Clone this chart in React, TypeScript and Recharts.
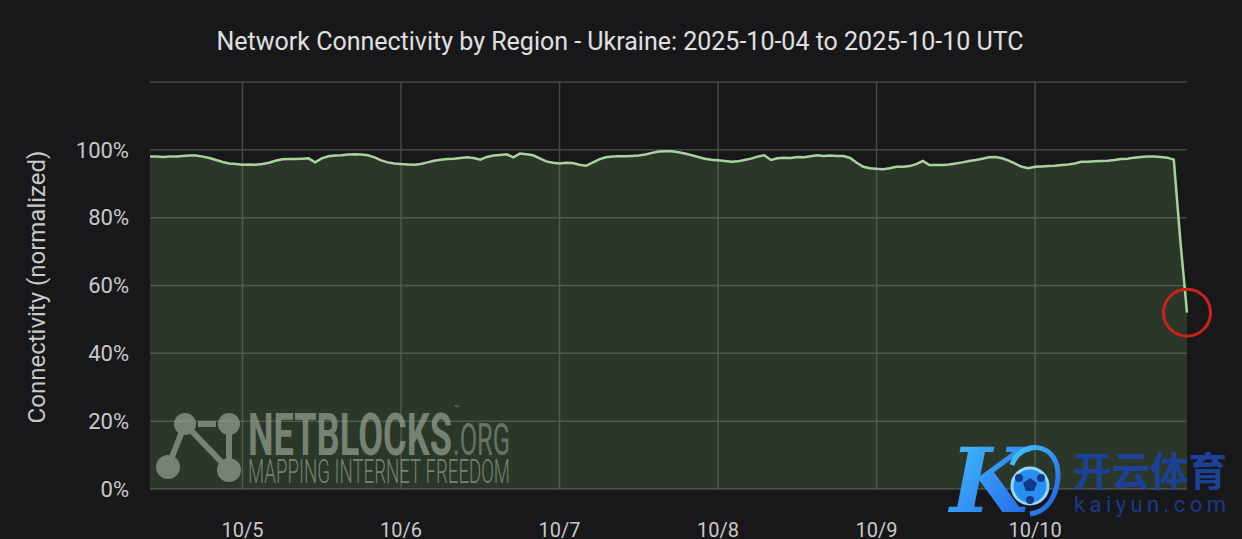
import React from 'react'
import {
  AreaChart,
  Area,
  XAxis,
  YAxis,
  CartesianGrid,
  ReferenceDot,
} from 'recharts'

// hours after 2025-10-04 00:00 UTC of the first sample
const startHour = 10

// hourly normalized connectivity (%)
const connectivity = [
  98.0, 98.0, 97.9, 98.0, 98.0, 98.2, 98.3, 98.3, 98.0, 97.6,
  97.0, 96.4, 96.0, 95.8, 95.6, 95.7, 95.6, 95.8, 96.2, 96.8,
  97.2, 97.3, 97.3, 97.4, 97.5, 96.3, 97.5, 98.1, 98.3, 98.4,
  98.6, 98.7, 98.6, 98.4, 97.8, 96.9, 96.3, 96.0, 95.8, 95.7,
  95.6, 95.8, 96.3, 96.8, 97.1, 97.3, 97.4, 97.6, 97.8, 97.6,
  97.1, 97.9, 98.3, 98.5, 98.7, 97.8, 98.9, 98.7, 98.4, 97.5,
  96.6, 96.2, 96.0, 96.2, 96.1, 95.6, 95.3, 96.2, 97.2, 97.8,
  98.0, 98.1, 98.1, 98.2, 98.3, 98.6, 99.1, 99.5, 99.6, 99.6,
  99.3, 98.9, 98.4, 97.9, 97.4, 97.1, 96.9, 96.7, 96.5, 96.6,
  97.0, 97.4, 98.0, 98.4, 97.0, 97.5, 97.7, 97.6, 97.9, 97.8,
  98.1, 98.4, 98.2, 98.3, 98.2, 98.2, 97.6, 96.2, 95.0, 94.6,
  94.4, 94.3, 94.6, 95.0, 95.0, 95.2, 95.8, 96.7, 95.5, 95.5,
  95.5, 95.7, 96.0, 96.3, 96.7, 97.0, 97.4, 97.8, 97.9, 97.5,
  96.8, 95.9, 95.0, 94.6, 95.0, 95.1, 95.2, 95.3, 95.5, 95.7,
  96.0, 96.5, 96.5, 96.6, 96.7, 96.8, 97.0, 97.3, 97.4, 97.7,
  97.9, 98.0, 98.0, 97.9, 97.7, 97.1, 73, 52,
]

const xTicks = [24, 48, 72, 96, 120, 144]
const xTickLabels = ['10/5', '10/6', '10/7', '10/8', '10/9', '10/10']
const yTicks = [0, 20, 40, 60, 80, 100, 120]

const data = connectivity.map((value, i) => ({ hour: startHour + i, value }))
const lastPoint = data[data.length - 1]

const TEXT = '#c9c9c9'

// only the day lines, no lines on the plot edges
function dayLines({ xAxis, offset }: any) {
  if (xAxis && typeof xAxis.scale === 'function') {
    return xTicks.map((t) => xAxis.scale(t))
  }
  const span = lastPoint.hour - startHour
  return xTicks.map((t) => offset.left + ((t - startHour) / span) * offset.width)
}

function Watermarks() {
  return (
    <svg
      width={1242}
      height={539}
      style={{ position: 'absolute', left: 0, top: 0, pointerEvents: 'none' }}
    >
      <defs>
        <linearGradient id="kgrad" x1="0" y1="0" x2="1" y2="1">
          <stop offset="0%" stopColor="#45c8ff" />
          <stop offset="100%" stopColor="#1f5ee6" />
        </linearGradient>
      </defs>

      {/* title + y label */}
      <text x={620} y={50} textAnchor="middle" fontSize={25} fill="#e0e0e0">
        Network Connectivity by Region - Ukraine: 2025-10-04 to 2025-10-10 UTC
      </text>
      <text
        x={37}
        y={287}
        textAnchor="middle"
        dominantBaseline="central"
        fontSize={24}
        fill={TEXT}
        transform="rotate(-90 37 287)"
      >
        Connectivity (normalized)
      </text>

      {/* netblocks watermark */}
      <g fill="#98a195" stroke="#98a195" opacity={0.7}>
        <line x1={185} y1={424} x2={168} y2={467} strokeWidth={6} />
        <line x1={185} y1={424} x2={229} y2={470} strokeWidth={6} />
        <line x1={229} y1={424} x2={229} y2={470} strokeWidth={6} />
        <line x1={198} y1={424} x2={216} y2={424} strokeWidth={6} />
        <circle cx={185} cy={424} r={11} stroke="none" />
        <circle cx={229} cy={424} r={11} stroke="none" />
        <circle cx={168} cy={467} r={12} stroke="none" />
        <circle cx={229} cy={470} r={12} stroke="none" />
        <text
          x={248}
          y={455}
          fontSize={60}
          fontWeight={700}
          stroke="none"
          textLength={204}
          lengthAdjust="spacingAndGlyphs"
        >
          NETBLOCKS
        </text>
        <text x={454} y={411} fontSize={8} stroke="none">™</text>
        <text
          x={453}
          y={455}
          fontSize={44}
          stroke="none"
          textLength={57}
          lengthAdjust="spacingAndGlyphs"
          opacity={0.8}
        >
          .ORG
        </text>
        <text
          x={248}
          y={483}
          fontSize={33}
          fontWeight={300}
          stroke="none"
          textLength={262}
          lengthAdjust="spacingAndGlyphs"
        >
          MAPPING INTERNET FREEDOM
        </text>
      </g>

      {/* kaiyun watermark */}
      <g>
        <text
          x={950}
          y={512}
          fontSize={90}
          fontWeight={900}
          fontStyle="italic"
          fill="url(#kgrad)"
          fontFamily="DejaVu Serif, serif"
        >
          K
        </text>
        <path
          d="M1012 465 C1020 440 1060 440 1058 478 C1056 500 1045 512 1030 514"
          fill="none"
          stroke="url(#kgrad)"
          strokeWidth={5}
        />
        <circle cx={1030} cy={486} r={18} fill="#2a8df0" stroke="#8fd8ff" strokeWidth={3} />
        <polygon points="1030,478 1037,483 1034,491 1026,491 1023,483" fill="#123a8a" />
        <circle cx={1019} cy={478} r={4} fill="#123a8a" />
        <circle cx={1041} cy={478} r={4} fill="#123a8a" />
        <circle cx={1030} cy={500} r={4} fill="#123a8a" />
        <text
          x={1073}
          y={486}
          fontSize={40}
          fontWeight={700}
          fill="#1c4196"
          fontFamily="Noto Sans CJK SC, sans-serif"
          textLength={154}
          lengthAdjust="spacingAndGlyphs"
        >
          开云体育
        </text>
        <text
          x={1074}
          y={512}
          fontSize={22}
          fill="#1a3a88"
          textLength={152}
          lengthAdjust="spacing"
        >
          kaiyun.com
        </text>
      </g>
    </svg>
  )
}

export default function App() {
  return (
    <div
      style={{
        position: 'relative',
        width: 1242,
        height: 539,
        background: '#18181a',
        fontFamily: 'Roboto, sans-serif',
        overflow: 'hidden',
      }}
    >
      <style>{`body { margin: 0; background: #18181a; }`}</style>
      <AreaChart
        width={1242}
        height={539}
        data={data}
        margin={{ top: 82, right: 55, bottom: 0, left: 0 }}
      >
        <CartesianGrid
          stroke="#474747"
          strokeWidth={1.5}
          verticalCoordinatesGenerator={dayLines}
        />
        <XAxis
          dataKey="hour"
          type="number"
          domain={[startHour, lastPoint.hour]}
          ticks={xTicks}
          tickFormatter={(v) => xTickLabels[xTicks.indexOf(v)]}
          height={50}
          tickSize={0}
          tickMargin={34}
          axisLine={false}
          tickLine={false}
          tick={{ fill: TEXT, fontSize: 20 }}
        />
        <YAxis
          type="number"
          domain={[0, 120]}
          ticks={yTicks}
          tickFormatter={(v) => (v === 120 ? '' : `${v}%`)}
          width={150}
          tickSize={0}
          tickMargin={21}
          axisLine={false}
          tickLine={false}
          tick={{ fill: TEXT, fontSize: 22 }}
        />
        <Area
          type="linear"
          dataKey="value"
          stroke="#a8d39e"
          strokeWidth={2.5}
          fill="#6a9a5e"
          fillOpacity={0.24}
          dot={false}
          activeDot={false}
          isAnimationActive={false}
        />
        <ReferenceDot
          x={lastPoint.hour}
          y={lastPoint.value}
          r={23.5}
          fill="none"
          stroke="#cc221c"
          strokeWidth={3}
          ifOverflow="visible"
        />
      </AreaChart>
      <Watermarks />
    </div>
  )
}
